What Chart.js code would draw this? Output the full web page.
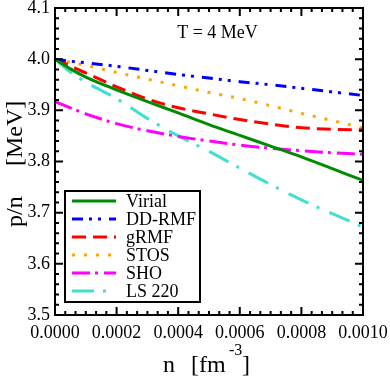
<!DOCTYPE html>
<html>
<head>
<meta charset="utf-8">
<script src="https://cdn.jsdelivr.net/npm/chart.js@4/dist/chart.umd.min.js"></script>
<style>
  html, body { margin: 0; padding: 0; background: #fff; }
  #wrap { width: 390px; height: 379px; }
</style>
</head>
<body>
<div id="wrap"><canvas id="chart" width="390" height="379"></canvas></div>
<script>
// density values [fm^-3]
const nValues = [0, 0.00005, 0.0001, 0.0002, 0.0003, 0.0004, 0.0005, 0.0006, 0.0007, 0.0008, 0.0009, 0.001];

// p/n [MeV] for each model
const virial = [4.000, 3.981, 3.965, 3.940, 3.917, 3.895, 3.872, 3.851, 3.830, 3.809, 3.786, 3.763];
const ddRmf  = [4.000, 3.996, 3.993, 3.986, 3.978, 3.970, 3.963, 3.956, 3.950, 3.943, 3.936, 3.929];
const gRmf   = [4.000, 3.987, 3.973, 3.946, 3.922, 3.905, 3.893, 3.882, 3.873, 3.866, 3.863, 3.862];
const stos   = [4.000, 3.994, 3.988, 3.974, 3.961, 3.948, 3.935, 3.923, 3.909, 3.894, 3.880, 3.866];
const sho    = [3.917, 3.905, 3.893, 3.874, 3.860, 3.849, 3.840, 3.832, 3.826, 3.821, 3.817, 3.814];
const ls220  = [4.000, 3.975, 3.955, 3.923, 3.884, 3.850, 3.820, 3.787, 3.755, 3.725, 3.698, 3.672];

const seriesNames = ['Virial', 'DD-RMF', 'gRMF', 'STOS', 'SHO', 'LS 220'];
const xTicks = [0, 0.0002, 0.0004, 0.0006, 0.0008, 0.001];
const yTicks = [3.5, 3.6, 3.7, 3.8, 3.9, 4.0, 4.1];

const FONT = '"Liberation Serif", "Times New Roman", serif';

function toPoints(ys) {
    return ys.map((y, i) => ({ x: nValues[i], y: y }));
}

const styles = [
    { color: 'rgb(0,140,0)', dash: [] },
    { color: 'rgb(0,0,255)', dash: [11, 6, 3, 6, 3, 8] },
    { color: 'rgb(255,0,0)', dash: [14, 7] },
    { color: 'rgb(255,165,0)', dash: [3, 9] },
    { color: 'rgb(255,0,255)', dash: [18, 5, 3, 6] },
    { color: 'rgb(64,224,208)', dash: [22, 9, 3, 11] }
];

const allSeries = [virial, ddRmf, gRmf, stos, sho, ls220];
const datasets = allSeries.map((ys, i) => ({
    label: seriesNames[i],
    data: toPoints(ys),
    borderColor: styles[i].color,
    borderDash: styles[i].dash,
    borderWidth: 3,
    pointRadius: 0,
    fill: false,
    cubicInterpolationMode: 'monotone'
}));

// frame, inward ticks, title, legend and axis titles
const decorations = {
    id: 'decorations',
    afterDraw(chart) {
        const ctx = chart.ctx;
        const a = chart.chartArea;
        const xs = chart.scales.x;
        const ys = chart.scales.y;
        ctx.save();
        ctx.strokeStyle = '#000';
        ctx.lineWidth = 2;
        ctx.setLineDash([]);
        ctx.strokeRect(a.left, a.top, a.right - a.left, a.bottom - a.top);

        // x ticks: majors every 0.0002, 5 minors between
        for (let k = 0; k <= 30; k++) {
            const v = k * 0.001 / 30;
            const px = xs.getPixelForValue(v);
            const len = (k % 6 === 0) ? 8 : 4;
            ctx.beginPath();
            ctx.moveTo(px, a.bottom); ctx.lineTo(px, a.bottom - len);
            ctx.moveTo(px, a.top); ctx.lineTo(px, a.top + len);
            ctx.stroke();
        }
        // y ticks: majors every 0.1, 4 minors between
        for (let k = 0; k <= 30; k++) {
            const v = 3.5 + k * 0.02;
            const py = ys.getPixelForValue(v);
            const len = (k % 5 === 0) ? 8 : 4;
            ctx.beginPath();
            ctx.moveTo(a.left, py); ctx.lineTo(a.left + len, py);
            ctx.moveTo(a.right, py); ctx.lineTo(a.right - len, py);
            ctx.stroke();
        }

        ctx.fillStyle = '#000';
        ctx.font = '18px ' + FONT;
        ctx.textAlign = 'center';
        ctx.textBaseline = 'alphabetic';
        ctx.fillText('T = 4 MeV', 217.5, 38);

        // legend box
        ctx.fillStyle = '#fff';
        ctx.fillRect(65, 191, 135, 111);
        ctx.strokeRect(65, 191, 135, 111);
        ctx.textAlign = 'left';
        datasets.forEach((d, i) => {
            const cy = 201 + i * 18;
            ctx.strokeStyle = d.borderColor;
            ctx.lineWidth = 3;
            ctx.setLineDash(d.borderDash);
            ctx.beginPath();
            ctx.moveTo(72, cy); ctx.lineTo(116, cy);
            ctx.stroke();
            ctx.fillStyle = '#000';
            ctx.fillText(d.label, 126, cy + 6);
        });
        ctx.setLineDash([]);

        // x axis title
        ctx.fillStyle = '#000';
        ctx.font = '24px ' + FONT;
        ctx.fillText('n', 163, 372);
        ctx.fillText('[fm', 191, 372);
        ctx.fillText(']', 242, 372);
        ctx.font = '16px ' + FONT;
        ctx.fillText('-3', 229, 355);

        // y axis title
        ctx.font = '24px ' + FONT;
        ctx.translate(22, 0);
        ctx.rotate(-Math.PI / 2);
        ctx.fillText('p/n', -227, 0);
        ctx.fillText('[MeV]', -166, 0);
        ctx.restore();
    }
};

const config = {
    type: 'line',
    data: { datasets: datasets },
    options: {
        responsive: false,
        animation: false,
        layout: { padding: { top: 8, right: 27, left: 0, bottom: 0 } },
        plugins: {
            legend: { display: false },
            tooltip: { enabled: false }
        },
        scales: {
            x: {
                type: 'linear',
                min: 0,
                max: 0.001,
                afterBuildTicks: s => { s.ticks = xTicks.map(v => ({ value: v })); },
                afterFit: s => { s.height = 64; s.paddingLeft = 0; s.paddingRight = 0; },
                grid: { display: false, drawTicks: false },
                border: { display: false },
                ticks: {
                    padding: 7,
                    maxRotation: 0,
                    autoSkip: false,
                    color: '#000',
                    font: { family: FONT, size: 18 },
                    callback: v => v.toFixed(4)
                }
            },
            y: {
                type: 'linear',
                min: 3.5,
                max: 4.1,
                afterBuildTicks: s => { s.ticks = yTicks.map(v => ({ value: v })); },
                afterFit: s => { s.width = 55; s.paddingTop = 0; s.paddingBottom = 0; },
                grid: { display: false, drawTicks: false },
                border: { display: false },
                ticks: {
                    padding: 5,
                    autoSkip: false,
                    color: '#000',
                    font: { family: FONT, size: 18 },
                    callback: v => v.toFixed(1)
                }
            }
        }
    },
    plugins: [decorations]
};

new Chart(document.getElementById('chart'), config);
</script>
</body>
</html>
